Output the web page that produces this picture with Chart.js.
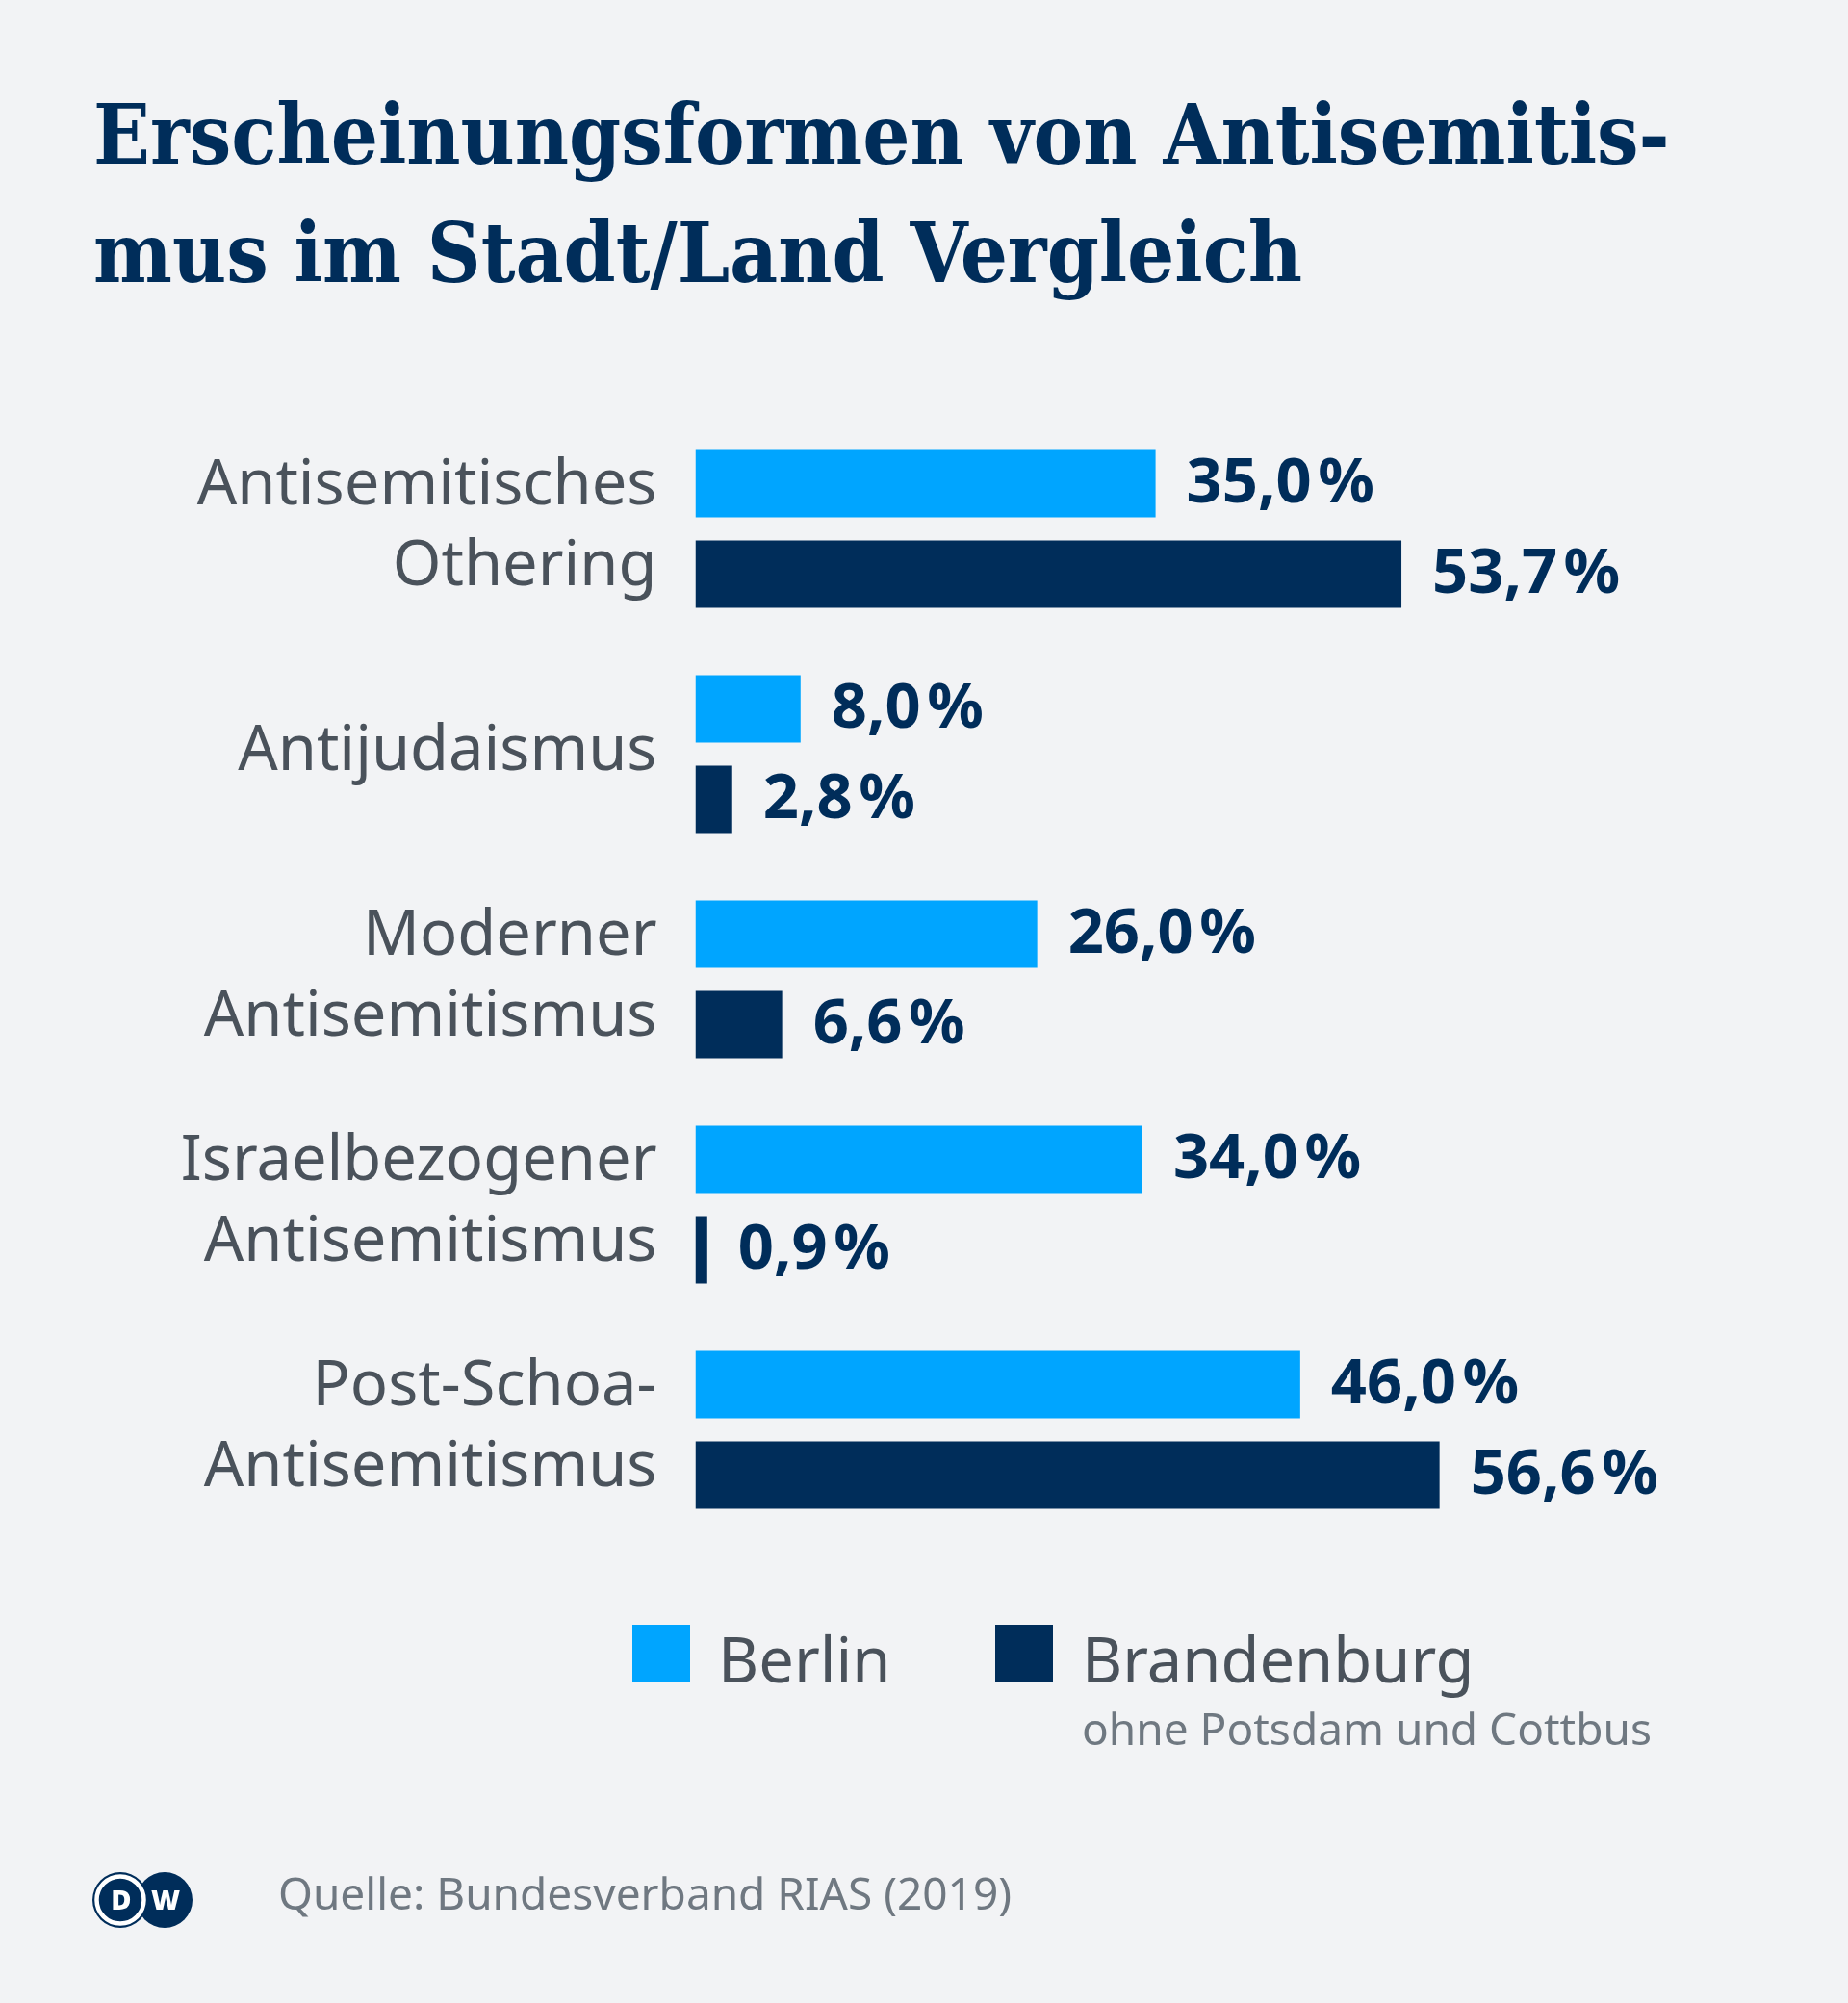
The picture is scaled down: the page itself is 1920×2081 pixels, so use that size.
<!DOCTYPE html>
<html lang="de">
<head>
<meta charset="utf-8">
<title>Erscheinungsformen von Antisemitismus im Stadt/Land Vergleich</title>
<script src="https://cdn.jsdelivr.net/npm/chart.js@4.4.1/dist/chart.umd.min.js"></script>
<style>
  html, body { margin: 0; padding: 0; background: #f2f3f5; }
  #page { position: relative; width: 1920px; height: 2081px; overflow: hidden; background: #f2f3f5; }
  #chart { position: absolute; left: 0; top: 0; }
  .txt { position: absolute; white-space: nowrap; font-family: "Noto Sans", "Open Sans", sans-serif; }
  #title {
    left: 97px; top: 78px;
    font-family: "DejaVu Serif", serif; font-weight: bold; font-stretch: condensed;
    font-size: 86px; line-height: 123px; color: #002d5a;
  }
  .swatch { position: absolute; width: 60px; height: 60px; }
  .legend { font-size: 65px; line-height: 65px; color: #4a525b; top: 1691px; }
  #note { left: 1124px; top: 1772px; font-size: 46px; line-height: 46px; color: #6f7881; }
  #source { left: 289px; top: 1943px; font-size: 46px; line-height: 46px; color: #6f7881; }
  #logo { position: absolute; left: 96px; top: 1945px; }
</style>
</head>
<body>
<div id="page">
  <canvas id="chart" width="1920" height="2081"></canvas>
  <div id="title" class="txt">Erscheinungsformen von Antisemitis-<br>mus im Stadt/Land Vergleich</div>

  <div class="swatch" style="left:657px; top:1688px; background:#00a5ff;"></div>
  <div class="txt legend" style="left:746px;">Berlin</div>
  <div class="swatch" style="left:1034px; top:1688px; background:#002d5a;"></div>
  <div class="txt legend" style="left:1124px;">Brandenburg</div>
  <div id="note" class="txt">ohne Potsdam und Cottbus</div>

  <svg id="logo" width="104" height="58" viewBox="0 0 104 58">
    <circle cx="75" cy="29" r="29" fill="#002d5a"/>
    <circle cx="29" cy="29" r="29" fill="#002d5a"/>
    <circle cx="29" cy="29" r="24.5" fill="none" stroke="#ffffff" stroke-width="4.5"/>
    <text x="30" y="39" text-anchor="middle" font-family="Noto Sans" font-weight="900" font-size="29" fill="#ffffff">D</text>
    <text x="76" y="39" text-anchor="middle" font-family="Noto Sans" font-weight="900" font-size="29" fill="#ffffff">W</text>
  </svg>
  <div id="source" class="txt">Quelle: Bundesverband RIAS (2019)</div>
</div>

<script>
// Data
const categories = [
  ['Antisemitisches', 'Othering'],
  'Antijudaismus',
  ['Moderner', 'Antisemitismus'],
  ['Israelbezogener', 'Antisemitismus'],
  ['Post-Schoa-', 'Antisemitismus']
];
const berlinValues = [35.0, 8.0, 26.0, 34.0, 46.0];
const brandenburgValues = [53.7, 2.8, 6.6, 0.9, 56.6];

const BERLIN_BLUE = '#00a5ff';
const NAVY = '#002d5a';

// Value labels to the right of each bar
const valueLabels = {
  id: 'valueLabels',
  afterDatasetsDraw(chart) {
    const ctx = chart.ctx;
    ctx.save();
    ctx.font = 'bold 65px "Noto Sans"';
    ctx.fillStyle = NAVY;
    ctx.textAlign = 'left';
    ctx.textBaseline = 'middle';
    chart.data.datasets.forEach((ds, i) => {
      chart.getDatasetMeta(i).data.forEach((bar, j) => {
        const label = ds.data[j].toFixed(1).replace('.', ',') + '\u200A%';
        ctx.fillText(label, bar.x + 32, bar.y + 1);
      });
    });
    ctx.restore();
  }
};

new Chart(document.getElementById('chart'), {
  type: 'bar',
  data: {
    labels: categories,
    datasets: [
      { label: 'Berlin', data: berlinValues, backgroundColor: BERLIN_BLUE },
      { label: 'Brandenburg', data: brandenburgValues, backgroundColor: NAVY }
    ]
  },
  options: {
    indexAxis: 'y',
    responsive: false,
    animation: false,
    categoryPercentage: 188 / 234,
    barPercentage: 70 / 94,
    layout: { padding: { left: 22.5, right: 104.7, top: 432.5, bottom: 478.5 } },
    scales: {
      x: { display: false, min: 0, max: 80 },
      y: {
        grid: { display: false, drawTicks: false },
        border: { display: false },
        ticks: {
          color: '#4a525b',
          font: { family: 'Noto Sans', size: 65, lineHeight: 84 / 65 },
          padding: 40,
          labelOffset: -2,
          crossAlign: 'near',
          autoSkip: false
        },
        afterFit(scale) { scale.width = 700; }
      }
    },
    plugins: {
      legend: { display: false },
      tooltip: { enabled: false }
    }
  },
  plugins: [valueLabels]
});
</script>
</body>
</html>
